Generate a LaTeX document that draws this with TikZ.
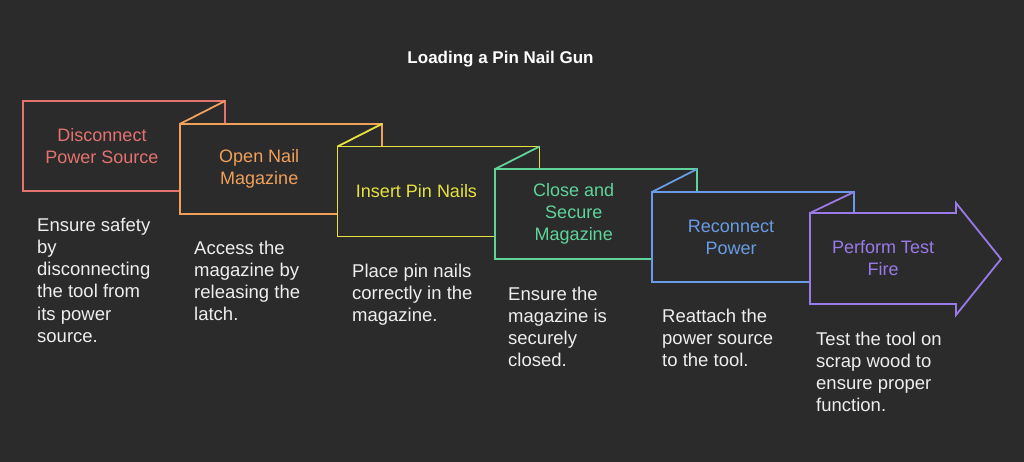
\documentclass[tikz,border=0pt]{standalone}
\usepackage{fontspec}
\setmainfont{Liberation Sans}
\usetikzlibrary{positioning}
\definecolor{bgdark}{HTML}{2B2B2B}
\definecolor{notegray}{HTML}{EEEEEE}
\definecolor{cA}{HTML}{E4736F}
\definecolor{cB}{HTML}{EFA05A}
\definecolor{cC}{HTML}{E8E23E}
\definecolor{cD}{HTML}{5ED49A}
\definecolor{cE}{HTML}{6A9BE6}
\definecolor{cF}{HTML}{9A7AE8}
\tikzset{
  stepbox/.style={rectangle,draw,fill=bgdark,line width=1.8pt,minimum width=202pt,minimum height=90pt,inner sep=0pt,outer sep=0pt},
  steplabel/.style={align=center,inner sep=0pt,font=\fontsize{18}{22}\selectfont},
  stepnote/.style={align=left,anchor=base west,inner sep=0pt,text=notegray,font=\fontsize{18.5}{22.3}\selectfont},
  fold/.style={line width=1.8pt}
}

\begin{document}
\begin{tikzpicture}[x=1pt,y=-1pt]
            \fill[bgdark] (0,0) rectangle (1024,462);
            \useasboundingbox (0,0) rectangle (1024,462);

            \node[font=\bfseries\fontsize{17}{20}\selectfont,text=white,anchor=base] (title) at (500.5,64) {Loading a Pin Nail Gun};

            \foreach \i/\col/\txt in {1/cA/{Disconnect\\Power Source},2/cB/{Open Nail\\Magazine},3/cC/{Insert Pin Nails},4/cD/{Close and\\Secure\\Magazine},5/cE/{Reconnect\\Power}}{
                \node[stepbox,draw=\col] (box\i) at ({124+157.25*(\i-1)},{146+22.75*(\i-1)}) {};
                \node[steplabel,text=\col] (lbl\i) at ([xshift=79pt]box\i.west) {\txt};
            }

            % last step: arrow
            \coordinate (arrowNW) at (810,213);
            \draw[cF,fill=bgdark,line width=1.8pt] (arrowNW) -- (956,213) -- (956,203) -- (1001,259) -- (956,315) -- (956,304) -- (810,304) -- cycle;
            \node[steplabel,text=cF] (lbl6) at (883,258.5) {Perform Test\\Fire};

            \foreach \i/\j/\col in {1/2/cB,2/3/cC,3/4/cD,4/5/cE}{
                \draw[fold,\col] (box\j.north west) -- (box\i.north east);
            }
            \draw[fold,cF] (arrowNW) -- (box5.north east);

            % notes: base anchor sits on the last line
            \foreach \i/\x/\y/\n/\txt in {1/37/231/6/{Ensure safety\\by\\disconnecting\\the tool from\\its power\\source.},2/194/254/4/{Access the\\magazine by\\releasing the\\latch.},3/352/277/3/{Place pin nails\\correctly in the\\magazine.},4/508/300/4/{Ensure the\\magazine is\\securely\\closed.},5/662/322/3/{Reattach the\\power source\\to the tool.},6/816/345/4/{Test the tool on\\scrap wood to\\ensure proper\\function.}}{
                \node[stepnote] (note\i) at (\x,{\y+22.3*(\n-1)}) {\txt};
            }
\end{tikzpicture}
\end{document}
